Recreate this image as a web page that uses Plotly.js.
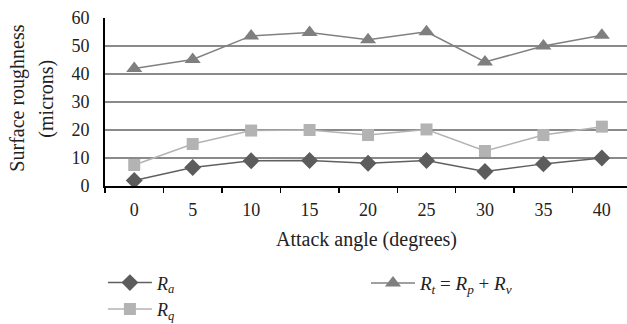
<!DOCTYPE html>
<html>
<head>
<meta charset="utf-8">
<script src="https://cdn.plot.ly/plotly-3.0.1.min.js"></script>
<style>html,body{margin:0;padding:0;background:#fff;}#chart{width:627px;height:324px;}</style>
</head>
<body>
<div id="chart"></div>
<script>
const angles = ["0","5","10","15","20","25","30","35","40"];
const Ra = [2.0, 6.6, 9.0, 9.1, 8.1, 9.1, 5.2, 7.9, 10.0];
const Rq = [7.5, 15.0, 19.8, 20.0, 18.2, 20.2, 12.5, 18.2, 21.2];
const Rt = [42.0, 45.2, 53.6, 54.8, 52.2, 55.1, 44.3, 50.0, 53.8];
const yTicks = [0,10,20,30,40,50,60];
const xTitle = "Attack angle (degrees)";
const yTitle1 = "Surface roughness";
const yTitle2 = "(microns)";

const fontFam = "Liberation Serif, DejaVu Serif, serif";
const txt = "#222";

const traces = [
  {x: angles, y: Ra, name: "<i>R<sub>a</sub></i>", type: "scatter", mode: "lines+markers",
   line: {color: "#606060", width: 1.5},
   marker: {symbol: "diamond", size: 13, color: "#5c5c5c"}, legend: "legend"},
  {x: angles, y: Rq, name: "<i>R<sub>q</sub></i>", type: "scatter", mode: "lines+markers",
   line: {color: "#b3b3b3", width: 1.5},
   marker: {symbol: "square", size: 12, color: "#b3b3b3"}, legend: "legend"},
  {x: angles, y: Rt, name: "<i>R<sub>t</sub></i> = <i>R<sub>p</sub></i> + <i>R<sub>v</sub></i>", type: "scatter", mode: "lines+markers",
   line: {color: "#808080", width: 1.5},
   marker: {symbol: "triangle-up", size: 14, color: "#7f7f7f"}, legend: "legend2"}
];

const layout = {
  width: 627, height: 324,
  margin: {l: 105, r: 0, t: 18, b: 138, autoexpand: false},
  paper_bgcolor: "#fff", plot_bgcolor: "#fff",
  font: {family: fontFam, size: 18, color: txt},
  showlegend: true,
  xaxis: {
    type: "category", range: [-0.5, 8.43],
    tickmode: "array", tickvals: angles, ticktext: angles, tickangle: 0,
    showline: true, linecolor: "#000", linewidth: 2,
    ticks: "outside", tickson: "boundaries", ticklen: 5, tickcolor: "#000", tickwidth: 1.5,
    ticklabelstandoff: 6, automargin: false,
    showgrid: false, zeroline: false,
    tickfont: {family: fontFam, size: 18, color: txt},
    fixedrange: true
  },
  yaxis: {
    range: [0, 60], tickmode: "array", tickvals: yTicks, automargin: false,
    showline: true, linecolor: "#000", linewidth: 2,
    ticks: "outside", ticklen: 10, tickcolor: "rgba(0,0,0,0)",
    showgrid: true, gridcolor: "#8a8a8a", gridwidth: 1.5, zeroline: false,
    tickfont: {family: fontFam, size: 18, color: txt},
    fixedrange: true
  },
  annotations: [
    {text: xTitle, xref: "paper", yref: "paper", x: 0.5, y: -0.321, xanchor: "center", yanchor: "middle",
     showarrow: false, font: {family: fontFam, size: 20, color: txt}},
    {text: yTitle1, xref: "paper", yref: "paper", x: (18 - 105) / 522, y: 0.52, xanchor: "center", yanchor: "middle",
     textangle: -90, showarrow: false, font: {family: fontFam, size: 20, color: txt}},
    {text: yTitle2, xref: "paper", yref: "paper", x: (47 - 105) / 522, y: 0.52, xanchor: "center", yanchor: "middle",
     textangle: -90, showarrow: false, font: {family: fontFam, size: 20, color: txt}}
  ],
  legend: {x: -0.004, y: 0.184, xref: "paper", yref: "container", xanchor: "left", yanchor: "top",
           orientation: "v", font: {family: fontFam, size: 18, color: txt}, tracegroupgap: 0,
           itemwidth: 44, bgcolor: "rgba(0,0,0,0)"},
  legend2: {x: 0.5, y: 0.185, xref: "paper", yref: "container", xanchor: "left", yanchor: "top",
           orientation: "v", font: {family: fontFam, size: 19, color: txt},
           itemwidth: 44, bgcolor: "rgba(0,0,0,0)"}
};

Plotly.newPlot("chart", traces, layout, {displayModeBar: false, staticPlot: true});
</script>
</body>
</html>
